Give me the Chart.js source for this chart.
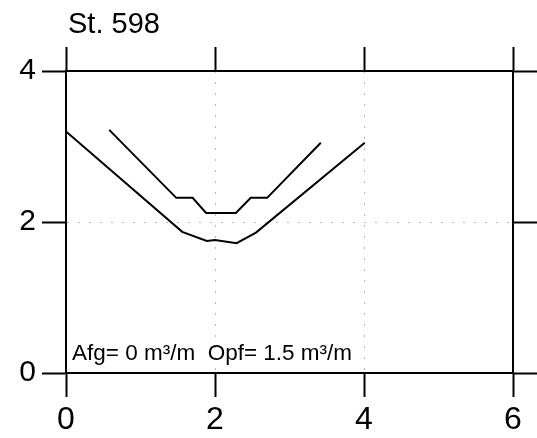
<!DOCTYPE html>
<html>
<head>
<meta charset="utf-8">
<script src="https://cdn.jsdelivr.net/npm/chart.js@4.4.0/dist/chart.umd.min.js"></script>
<style>
  html, body { margin: 0; padding: 0; background: #fff; }
  #wrap { width: 537px; height: 438px; }
</style>
</head>
<body>
<div id="wrap"><canvas id="chart" width="537" height="438"></canvas></div>
<script>
// profile values (distance, depth)
var upperX = [0.58, 1.48, 1.70, 1.88, 2.28, 2.48, 2.70, 3.42];
var upperY = [3.22, 2.32, 2.32, 2.12, 2.12, 2.32, 2.32, 3.05];
var lowerX = [0.00, 1.56, 1.89, 2.00, 2.29, 2.55, 4.01];
var lowerY = [3.20, 1.87, 1.75, 1.76, 1.72, 1.86, 3.05];

var xTicks = [0, 2, 4, 6];
var yTicks = [0, 2, 4];

var titleText = 'St. 598';
var noteText = 'Afg= 0 m³/m  Opf= 1.5 m³/m';

var FONT = '"Liberation Sans", Arial, Helvetica, sans-serif';
Chart.defaults.font.family = FONT;
Chart.defaults.color = '#000';

function toPoints(xs, ys) {
	return xs.map(function (x, i) { return { x: x, y: ys[i] }; });
}

// only the inner ticks get a faint dotted grid line
function innerGrid(ctx) {
	var v = ctx.tick ? ctx.tick.value : null;
	if (v === null) return 'rgba(0,0,0,0)';
	return (v === 2 || v === 4) ? '#b8b8b8' : 'rgba(0,0,0,0)';
}

function fixSize(prop, size) {
	return function (scale) { scale[prop] = size; };
}

function setTicks(list) {
	return function (scale) { scale.ticks = list.map(function (v) { return { value: v }; }); };
}

var textPlugin = {
	id: 'texts',
	afterDraw: function (chart) {
		var ctx = chart.ctx;
		ctx.save();
		ctx.fillStyle = '#000';
		ctx.textAlign = 'left';
		ctx.textBaseline = 'alphabetic';
		ctx.font = '29px ' + FONT;
		ctx.fillText(titleText, 68, 33);
		ctx.font = '22.5px ' + FONT;
		ctx.fillText(noteText, 72, 360);
		ctx.restore();
	}
};

new Chart(document.getElementById('chart'), {
	type: 'scatter',
	data: {
		datasets: [
			{
				data: toPoints(upperX, upperY),
				showLine: true,
				borderColor: '#000',
				borderWidth: 2,
				pointRadius: 0,
				tension: 0
			},
			{
				data: toPoints(lowerX, lowerY),
				showLine: true,
				borderColor: '#000',
				borderWidth: 2,
				pointRadius: 0,
				tension: 0
			}
		]
	},
	options: {
		responsive: false,
		animation: false,
		layout: { padding: 0 },
		plugins: {
			legend: { display: false },
			tooltip: { enabled: false }
		},
		scales: {
			x: {
				type: 'linear',
				position: 'bottom',
				min: 0,
				max: 6,
				afterBuildTicks: setTicks(xTicks),
				afterFit: fixSize('height', 65),
				ticks: { font: { size: 32 }, color: '#000', padding: 4, maxRotation: 0 },
				grid: { color: innerGrid, lineWidth: 1, tickLength: 24, tickColor: '#000', tickWidth: 2 },
				border: { color: '#000', width: 2, dash: [2, 9] }
			},
			xTop: {
				type: 'linear',
				position: 'top',
				min: 0,
				max: 6,
				afterBuildTicks: setTicks(xTicks),
				afterFit: fixSize('height', 71),
				ticks: { display: false },
				grid: { drawOnChartArea: false, tickLength: 24, tickColor: '#000', tickWidth: 2 },
				border: { color: '#000', width: 2 }
			},
			y: {
				type: 'linear',
				position: 'left',
				min: 0,
				max: 4,
				afterBuildTicks: setTicks(yTicks),
				afterFit: fixSize('width', 66),
				ticks: { font: { size: 30 }, color: '#000', padding: 6 },
				grid: { color: innerGrid, lineWidth: 1, tickLength: 24, tickColor: '#000', tickWidth: 2 },
				border: { color: '#000', width: 2, dash: [2, 9] }
			},
			yRight: {
				type: 'linear',
				position: 'right',
				min: 0,
				max: 4,
				afterBuildTicks: setTicks(yTicks),
				afterFit: fixSize('width', 24),
				ticks: { display: false },
				grid: { drawOnChartArea: false, tickLength: 24, tickColor: '#000', tickWidth: 2 },
				border: { color: '#000', width: 2 }
			}
		}
	},
	plugins: [textPlugin]
});
</script>
</body>
</html>
